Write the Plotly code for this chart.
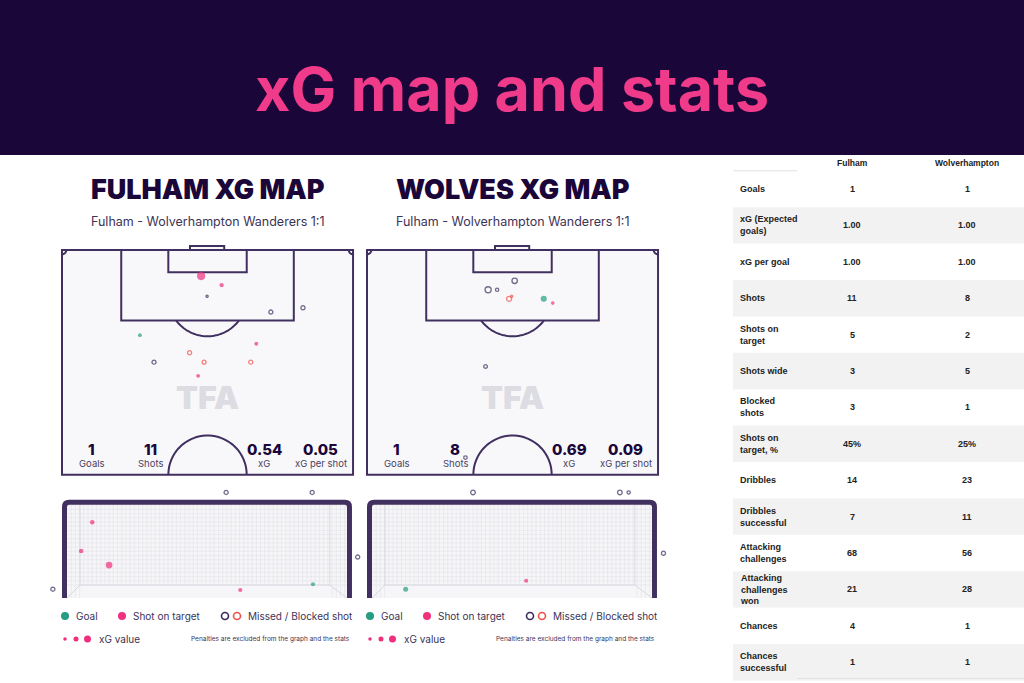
import numpy as np
import plotly.graph_objects as go

W, H = 1024, 683

# ---------------- DATA ----------------
page_title = "xG map and stats"
map_titles = ["FULHAM XG MAP", "WOLVES XG MAP"]
match_label = "Fulham - Wolverhampton Wanderers 1:1"
summary_labels = ["Goals", "Shots", "xG", "xG per shot"]
summary_fulham = ["1", "11", "0.54", "0.05"]
summary_wolves = ["1", "8", "0.69", "0.09"]

# Pitch shots: x = metres from left touchline, y = metres from goal line
ful_x = [32.5, 37.3, 33.9, 48.8, 56.3, 18.2, 45.4, 29.8, 21.5, 33.2, 44.1, 31.8]
ful_y = [6.1, 8.2, 10.8, 14.5, 13.5, 19.9, 21.9, 24.0, 26.2, 26.2, 26.2, 29.4]
ful_xg = [0.16, 0.035, 0.004, 0.03, 0.03, 0.025, 0.025, 0.03, 0.03, 0.025, 0.03, 0.025]
ful_type = ["target", "target", "missed", "missed", "missed", "goal", "target",
            "blocked", "missed", "blocked", "blocked", "target"]

wol_x = [34.5, 28.3, 30.4, 33.2, 33.8, 41.3, 43.4, 27.7, 23.0]
wol_y = [7.2, 9.3, 9.3, 11.4, 10.8, 11.4, 12.4, 27.2, 48.5]
wol_xg = [0.06, 0.08, 0.016, 0.05, 0.004, 0.08, 0.022, 0.022, 0.02]
wol_type = ["missed", "missed", "missed", "blocked", "blocked", "goal", "target",
            "missed", "missed"]

# Goal-mouth shots: x = metres from left post, y = height in metres
gful_x = [4.16, 6.41, 0.66, 0.37, 1.10, 7.60, -0.37, 4.53, 6.43]
gful_y = [2.76, 2.76, 1.98, 1.23, 0.86, 1.07, 0.23, 0.21, 0.36]
gful_xg = [0.03, 0.03, 0.04, 0.04, 0.10, 0.03, 0.03, 0.03, 0.03]
gful_type = ["missed", "missed", "target", "target", "target", "missed", "missed",
             "target", "goal"]

gwol_x = [2.64, 6.48, 6.71, 7.62, 4.03, 0.88]
gwol_y = [2.76, 2.76, 2.76, 1.17, 0.45, 0.23]
gwol_xg = [0.04, 0.04, 0.015, 0.03, 0.03, 0.05]
gwol_type = ["missed", "missed", "missed", "missed", "target", "goal"]

table_header = ["Fulham", "Wolverhampton"]
table_rows = ["Goals", "xG (Expected<br>goals)", "xG per goal", "Shots",
              "Shots on<br>target", "Shots wide", "Blocked<br>shots",
              "Shots on<br>target, %", "Dribbles", "Dribbles<br>successful",
              "Attacking<br>challenges", "Attacking<br>challenges<br>won",
              "Chances", "Chances<br>successful"]
table_fulham = ["1", "1.00", "1.00", "11", "5", "3", "3", "45%", "14", "7", "68", "21", "4", "1"]
table_wolves = ["1", "1.00", "1.00", "8", "2", "5", "1", "25%", "23", "11", "56", "28", "1", "1"]

legend_labels = ["Goal", "Shot on target", "Missed / Blocked shot", "xG value"]
footnote = "Penalties are excluded from the graph and the stats"

# ---------------- STYLE ----------------
NAVY = "#1b0639"
TITLE_PINK = "#f03a8a"
PINK = "#f0307e"
TEAL = "#259d82"
DARK = "#3b2b5b"
RED = "#f0504c"
LINE = "#41305f"
TXT = "#3d3356"
FONT = "Inter"

def fx(px):
    return px / W

def fy(py):
    return 1 - py / H

fig = go.Figure()
shapes = []
ann = []

# header band
shapes.append(dict(type="rect", xref="paper", yref="paper", x0=0, x1=1, y0=fy(155), y1=1,
                   fillcolor=NAVY, line=dict(width=0), layer="below"))
ann.append(dict(text=page_title, xref="paper", yref="paper", x=0.5, y=fy(89),
                showarrow=False, xanchor="center", yanchor="middle",
                font=dict(family=FONT, size=61, color=TITLE_PINK, weight=700)))

# ---------------- PITCHES ----------------
S = 4.28  # px per metre
PX0 = [62, 367]
PY0 = 250
XR = [-1.2, 69.2]
YR = [-2.0, 53.5]

def arc(cx, cy, r, t0, t1, sgn=1, n=40):
    t = np.linspace(np.radians(t0), np.radians(t1), n)
    xs = cx + r * np.cos(t)
    ys = cy + sgn * r * np.sin(t)
    return "M " + " L ".join(f"{a:.3f},{b:.3f}" for a, b in zip(xs, ys))

layout_axes = {}
for k in range(2):
    xa = "x" if k == 0 else "x2"
    ya = "y" if k == 0 else "y2"
    xname = "xaxis" if k == 0 else "xaxis2"
    yname = "yaxis" if k == 0 else "yaxis2"
    L0 = PX0[k]
    layout_axes[xname] = dict(domain=[fx(L0 + XR[0] * S), fx(L0 + XR[1] * S)], range=XR,
                              visible=False, fixedrange=True)
    layout_axes[yname] = dict(domain=[fy(PY0 + YR[1] * S), fy(PY0 + YR[0] * S)],
                              range=[YR[1], YR[0]], visible=False, fixedrange=True)
    ln = dict(color=LINE, width=2)
    shapes.append(dict(type="rect", xref=xa, yref=ya, x0=0, x1=68, y0=0, y1=52.5,
                       fillcolor="#f8f8fa", line=ln, layer="below"))
    shapes.append(dict(type="rect", xref=xa, yref=ya, x0=13.84, x1=54.16, y0=0, y1=16.5,
                       line=ln, layer="below"))
    shapes.append(dict(type="rect", xref=xa, yref=ya, x0=24.84, x1=43.16, y0=0, y1=5.2,
                       line=ln, layer="below"))
    shapes.append(dict(type="rect", xref=xa, yref=ya, x0=29.9, x1=37.9, y0=-0.95, y1=0,
                       fillcolor="#f8f8fa", line=ln, layer="below"))
    shapes.append(dict(type="path", xref=xa, yref=ya, path=arc(34, 11, 9.15, 36.9, 143.1),
                       line=ln, layer="below"))
    shapes.append(dict(type="path", xref=xa, yref=ya, path=arc(34, 52.5, 9.15, 0, 180, sgn=-1),
                       line=ln, layer="below"))
    shapes.append(dict(type="path", xref=xa, yref=ya, path=arc(0, 0, 1.0, 0, 90),
                       line=ln, layer="below"))
    shapes.append(dict(type="path", xref=xa, yref=ya, path=arc(68, 0, 1.0, 90, 180),
                       line=ln, layer="below"))
    # watermark
    ann.append(dict(text="TFA", xref=xa, yref=ya, x=34, y=34.5, showarrow=False,
                    font=dict(family=FONT, size=32, color="#dcdce2", weight=900)))
    # summary stats
    vals = summary_fulham if k == 0 else summary_wolves
    for xpos, v, lab in zip([7.0, 20.6, 47.2, 60.5], vals, summary_labels):
        ann.append(dict(text=v, xref=xa, yref=ya, x=xpos, y=46.6, showarrow=False,
                        font=dict(family=FONT, size=15, color=NAVY, weight=800)))
        ann.append(dict(text=lab, xref=xa, yref=ya, x=xpos, y=49.8, showarrow=False,
                        font=dict(family=FONT, size=9.5, color="#4a3f63")))
    # titles
    cx = L0 + 34 * S
    ann.append(dict(text=map_titles[k], xref="paper", yref="paper", x=fx(cx), y=fy(189),
                    showarrow=False, xanchor="center", yanchor="middle",
                    font=dict(family=FONT, size=27, color=NAVY, weight=900)))
    ann.append(dict(text=match_label, xref="paper", yref="paper", x=fx(cx), y=fy(222),
                    showarrow=False, xanchor="center", yanchor="middle",
                    font=dict(family=FONT, size=12.5, color=TXT)))

STYLE = {
    "goal": ("circle", TEAL),
    "target": ("circle", PINK),
    "missed": ("circle-open", DARK),
    "blocked": ("circle-open", RED),
}

def add_shots(xs, ys, xgs, types, xa, ya):
    for t, (sym, col) in STYLE.items():
        idx = [i for i, tt in enumerate(types) if tt == t]
        if not idx:
            continue
        sizes = [1 + 18 * np.sqrt(xgs[i]) for i in idx]
        fig.add_trace(go.Scatter(
            x=[xs[i] for i in idx], y=[ys[i] for i in idx], xaxis=xa, yaxis=ya,
            mode="markers", cliponaxis=False, hoverinfo="skip", showlegend=False,
            marker=dict(symbol=sym, size=sizes, color=col,
                        line=dict(width=1.3 if "open" in sym else 0, color=col))))

# ---------------- GOAL MOUTHS ----------------
SG = 38.25
GX0 = [67, 372]
GY0 = 598
GXR = [-0.55, 7.87]
GYR = [-0.1, 2.92]
for k in range(2):
    xa = "x3" if k == 0 else "x4"
    ya = "y3" if k == 0 else "y4"
    xname = "xaxis3" if k == 0 else "xaxis4"
    yname = "yaxis3" if k == 0 else "yaxis4"
    L0 = GX0[k]
    layout_axes[xname] = dict(domain=[fx(L0 + GXR[0] * SG), fx(L0 + GXR[1] * SG)], range=GXR,
                              visible=False, fixedrange=True)
    layout_axes[yname] = dict(domain=[fy(GY0 - GYR[0] * SG), fy(GY0 - GYR[1] * SG)], range=GYR,
                              visible=False, fixedrange=True)
    shapes.append(dict(type="rect", xref=xa, yref=ya, x0=0, x1=7.32, y0=0, y1=2.44,
                       fillcolor="#f6f6f8", line=dict(width=0), layer="below"))
    # net grid
    gx, gy = [], []
    for v in np.arange(0.11, 7.32, 0.11):
        gx += [v, v, None]
        gy += [0.34 if 0.34 < v < 6.87 else 0.0, 2.44, None]
    for v in np.arange(0.34, 2.44, 0.11):
        gx += [0, 7.32, None]
        gy += [v, v, None]
    fig.add_trace(go.Scatter(x=gx, y=gy, xaxis=xa, yaxis=ya, mode="lines",
                             line=dict(color="#e3e3ea", width=0.6), hoverinfo="skip",
                             showlegend=False))
    bx = [0, 0.34, 6.87, 7.32, None, 0.34, 0.34, None, 6.87, 6.87]
    by = [0, 0.34, 0.34, 0, None, 0.34, 2.44, None, 0.34, 2.44]
    fig.add_trace(go.Scatter(x=bx, y=by, xaxis=xa, yaxis=ya, mode="lines",
                             line=dict(color="#d2d2da", width=0.8), hoverinfo="skip",
                             showlegend=False))
    shapes.append(dict(type="path", xref=xa, yref=ya,
                       path="M -0.065,0 L -0.065,2.38 Q -0.065,2.5 0.055,2.5 L 7.265,2.5 "
                            "Q 7.385,2.5 7.385,2.38 L 7.385,0",
                       line=dict(color=LINE, width=5), layer="above"))

add_shots(ful_x, ful_y, ful_xg, ful_type, "x", "y")
add_shots(wol_x, wol_y, wol_xg, wol_type, "x2", "y2")
add_shots(gful_x, gful_y, gful_xg, gful_type, "x3", "y3")
add_shots(gwol_x, gwol_y, gwol_xg, gwol_type, "x4", "y4")

# ---------------- LEGENDS ----------------
def circ(px, py, d, fill, line=None):
    r = d / 2
    shapes.append(dict(type="circle", xref="paper", yref="paper",
                       x0=fx(px - r), x1=fx(px + r), y0=fy(py + r), y1=fy(py - r),
                       fillcolor=fill, line=dict(width=1.6 if line else 0, color=line or fill)))

for off in [0, 305]:
    circ(65 + off, 616, 8, TEAL)
    circ(122 + off, 616, 8, PINK)
    circ(225 + off, 616, 7, "rgba(0,0,0,0)", DARK)
    circ(237 + off, 616, 7, "rgba(0,0,0,0)", RED)
    circ(65 + off, 639, 3.5, PINK)
    circ(76 + off, 639, 5, PINK)
    circ(87.5 + off, 639, 7, PINK)
    for tx, ty, lab in [(74, 616, legend_labels[0]), (131, 616, legend_labels[1]),
                        (246, 616, legend_labels[2]), (97, 639, legend_labels[3])]:
        ann.append(dict(text=lab, xref="paper", yref="paper", x=fx(tx + off), y=fy(ty),
                        showarrow=False, xanchor="left", yanchor="middle",
                        font=dict(family=FONT, size=10, color=TXT)))
    ann.append(dict(text=footnote, xref="paper", yref="paper", x=fx(352 + off), y=fy(639),
                    showarrow=False, xanchor="right", yanchor="middle",
                    font=dict(family=FONT, size=6.5, color=TXT)))

# ---------------- TABLE ----------------
ROW0, ROWH = 189, 36.4
layout_axes["xaxis5"] = dict(domain=[fx(733), 1], range=[0, 1], visible=False, fixedrange=True)
layout_axes["yaxis5"] = dict(domain=[0, fy(155)],
                             range=[(683 - ROW0) / ROWH, (155 - ROW0) / ROWH],
                             visible=False, fixedrange=True)
TF = dict(family="Liberation Sans, Arial", size=9, color="#222222", weight=700)
for i, (lab, a, b) in enumerate(zip(table_rows, table_fulham, table_wolves)):
    if i % 2 == 1:
        shapes.append(dict(type="rect", xref="x5", yref="y5", x0=0, x1=1, y0=i - 0.5, y1=i + 0.5,
                           fillcolor="#f2f2f2", line=dict(width=0), layer="below"))
    ann.append(dict(text=lab, xref="x5", yref="y5", x=0.017, y=i, showarrow=False,
                    xanchor="left", yanchor="middle", align="left", font=TF))
    ann.append(dict(text=a, xref="x5", yref="y5", x=0.41, y=i, showarrow=False,
                    xanchor="center", yanchor="middle", font=TF))
    ann.append(dict(text=b, xref="x5", yref="y5", x=0.805, y=i, showarrow=False,
                    xanchor="center", yanchor="middle", font=TF))
hy = (163 - ROW0) / ROWH
for xpos, lab in zip([0.41, 0.805], table_header):
    ann.append(dict(text=lab, xref="x5", yref="y5", x=xpos, y=hy, showarrow=False,
                    xanchor="center", yanchor="middle", font=dict(TF, size=8.5)))
shapes.append(dict(type="line", xref="x5", yref="y5", x0=0, x1=0.22, y0=-0.5, y1=-0.5,
                   line=dict(color="#e2e2e2", width=1)))
shapes.append(dict(type="line", xref="x5", yref="y5", x0=0.22, x1=1, y0=13.45, y1=13.45,
                   line=dict(color="#e2e2e2", width=1)))

fig.update_layout(width=W, height=H, autosize=False, margin=dict(l=0, r=0, t=0, b=0),
                  paper_bgcolor="white", plot_bgcolor="rgba(0,0,0,0)",
                  shapes=shapes, annotations=ann, showlegend=False, **layout_axes)

fig.write_html("out.html", config={"displayModeBar": False},
               post_script="document.body.style.margin='0px';"
                           "document.body.style.overflow='hidden';")
